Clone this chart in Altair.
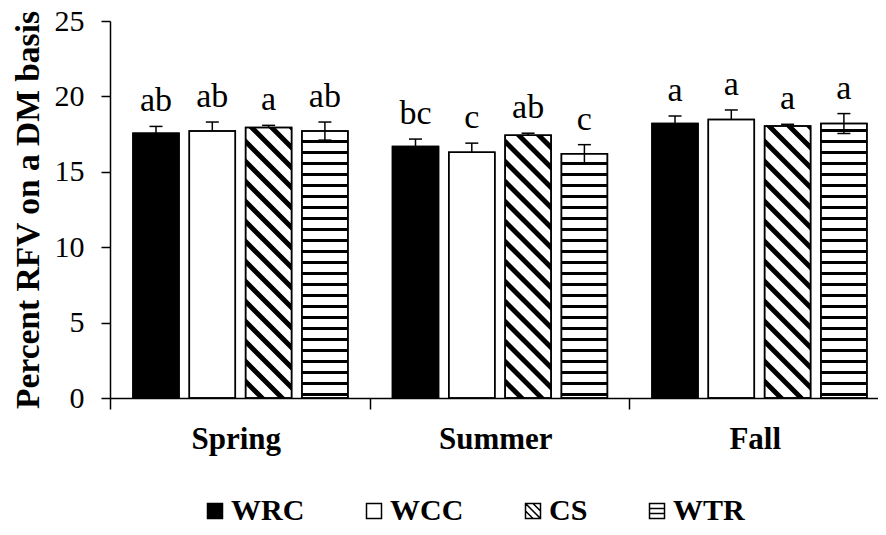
import altair as alt
import pandas as pd

# ---------------- data ----------------
seasons = ["Spring", "Summer", "Fall"]
series = ["WRC", "WCC", "CS", "WTR"]
values = {
    "WRC": [17.56, 16.67, 18.20],
    "WCC": [17.70, 16.30, 18.47],
    "CS":  [17.93, 17.43, 18.04],
    "WTR": [17.70, 16.20, 18.20],
}
errors = {
    "WRC": [0.45, 0.50, 0.50],
    "WCC": [0.60, 0.60, 0.63],
    "CS":  [0.15, 0.13, 0.11],
    "WTR": [0.60, 0.60, 0.66],
}
letters = {
    "WRC": ["ab", "bc", "a"],
    "WCC": ["ab", "c", "a"],
    "CS":  ["a", "ab", "a"],
    "WTR": ["ab", "c", "a"],
}
two_sided = ["WTR"]          # series whose error bars also extend below the mean
y_ticks = [0, 5, 10, 15, 20, 25]
fills = ["black", "white", "white", "white"]

# ---------------- layout constants (pixels) ----------------
W_PX, H_PX = 768, 377
GROUP_PX = 259.5
PXY = H_PX / 25.0
XMAX = W_PX / GROUP_PX
BAR_START, BAR_PITCH, BAR_W, CAP_HALF = 23.0, 56.3, 46.0, 6.5
DIAG_PERIOD, DIAG_THICK = 20.0, 7.0
HOR_PERIOD, HOR_FIRST = 11.0, 3.5
FONT = "Liberation Serif"

fill_of = dict(zip(series, fills))
rows = []
for g, season in enumerate(seasons):
    for i, s in enumerate(series):
        left = g + (BAR_START + i * BAR_PITCH) / GROUP_PX
        right = left + BAR_W / GROUP_PX
        v = values[s][g]
        e = errors[s][g]
        rows.append(dict(Season=season, Series=s, color=fill_of[s], left=left, right=right,
                         center=(left + right) / 2, value=v,
                         lo=v - e if s in two_sided else v, hi=v + e,
                         letter=letters[s][g]))
bars = pd.DataFrame(rows)

# error-bar caps
caps = []
for r in rows:
    caps.append(dict(x=r["center"] - CAP_HALF / GROUP_PX, x2=r["center"] + CAP_HALF / GROUP_PX, y=r["hi"]))
    if r["Series"] in two_sided:
        caps.append(dict(x=r["center"] - CAP_HALF / GROUP_PX, x2=r["center"] + CAP_HALF / GROUP_PX, y=r["lo"]))
caps = pd.DataFrame(caps)

# diagonal hatch (CS): bands of v + u in [c, c+t], clipped to the bar
diag = []
sid = 0
for r in rows:
    if r["Series"] != "CS":
        continue
    Wp, Hp = BAR_W, r["value"] * PXY
    c = -DIAG_THICK
    while c < Wp + Hp:
        us = sorted({u for u in [0, Wp, c, c - Hp, c + DIAG_THICK, c + DIAG_THICK - Hp] if 0 <= u <= Wp})
        for u in us:
            vlo = min(max(c - u, 0), Hp)
            vhi = min(max(c + DIAG_THICK - u, 0), Hp)
            diag.append(dict(sid=sid, x=r["left"] + u / GROUP_PX, y=vlo / PXY, y2=vhi / PXY))
        sid += 1
        c += DIAG_PERIOD
diag = pd.DataFrame(diag)

# horizontal hatch (WTR)
hor = []
for r in rows:
    if r["Series"] != "WTR":
        continue
    Hp = r["value"] * PXY
    v = HOR_FIRST
    while v < Hp - 2:
        hor.append(dict(x=r["left"], x2=r["right"], y=v / PXY))
        v += HOR_PERIOD
hor = pd.DataFrame(hor)

legend_df = pd.DataFrame({"Series": series})

xs = alt.Scale(domain=[0, XMAX], nice=False, zero=False)
ys = alt.Scale(domain=[0, 25], nice=False)

label_expr = ("datum.value == 0.5 ? 'Spring' : datum.value == 1.5 ? 'Summer' : "
              "datum.value == 2.5 ? 'Fall' : ''")

x_axis = alt.Axis(values=[0, 0.5, 1, 1.5, 2, 2.5], labelExpr=label_expr, title=None,
                  grid=False, labelOverlap=False, labelFlush=False,
                  tickColor={"condition": {"test": "datum.value % 1 == 0", "value": "black"},
                             "value": "transparent"},
                  tickSize=11, tickWidth=1.5, domainColor="black", domainWidth=1.5,
                  labelFont=FONT, labelFontSize=31, labelFontWeight="bold", labelColor="black",
                  labelPadding=15, labelOffset=-4)
y_axis = alt.Axis(values=y_ticks, title="Percent RFV on a DM basis", grid=False,
                  titleFont=FONT, titleFontSize=33.5, titleFontWeight="bold", titleColor="black",
                  titlePadding=9, labelFont=FONT, labelFontSize=30, labelColor="black",
                  labelPadding=17, tickSize=9, tickWidth=1.5, tickColor="black",
                  domainColor="black", domainWidth=1.5)

base_bars = alt.Chart(bars).mark_rect(stroke="black", strokeWidth=1.5).encode(
    x=alt.X("left:Q", scale=xs, axis=x_axis),
    x2="right:Q",
    y=alt.Y("value:Q", scale=ys, axis=y_axis),
    y2=alt.datum(0),
    fill=alt.Fill("color:N", scale=None),
)

diag_layer = alt.Chart(diag).mark_area(color="black", orient="vertical").encode(
    x=alt.X("x:Q", scale=xs), y=alt.Y("y:Q", scale=ys), y2="y2:Q", detail="sid:N")

hor_layer = alt.Chart(hor).mark_rule(color="black", strokeWidth=3).encode(
    x=alt.X("x:Q", scale=xs), x2="x2:Q", y=alt.Y("y:Q", scale=ys))

outline = alt.Chart(bars).mark_rect(fillOpacity=0, stroke="black", strokeWidth=1.5).encode(
    x=alt.X("left:Q", scale=xs), x2="right:Q", y=alt.Y("value:Q", scale=ys), y2=alt.datum(0))

err = alt.Chart(bars).mark_rule(color="black", strokeWidth=1.5).encode(
    x=alt.X("center:Q", scale=xs), y=alt.Y("lo:Q", scale=ys), y2="hi:Q")

cap_layer = alt.Chart(caps).mark_rule(color="black", strokeWidth=1.5).encode(
    x=alt.X("x:Q", scale=xs), x2="x2:Q", y=alt.Y("y:Q", scale=ys))

text = alt.Chart(bars).mark_text(baseline="alphabetic", dy=-15, font=FONT, fontSize=34,
                                 color="black").encode(
    x=alt.X("center:Q", scale=xs), y=alt.Y("hi:Q", scale=ys), text="letter:N")

shape_paths = [
    "M-1,-1H1V1H-1Z",
    "M-1,-1H1V1H-1Z",
    "M-1,-1H1V1H-1Z M-1,-1L1,1 M-1,0L0,1 M0,-1L1,0",
    "M-1,-1H1V1H-1Z M-1,-0.33H1 M-1,0.33H1",
]
leg = dict(orient="none", legendX=90, legendY=475, direction="horizontal", title=None,
           labelFont=FONT, labelFontSize=30, labelFontWeight="bold", labelColor="black",
           symbolSize=225, symbolStrokeColor="black", symbolStrokeWidth=1.5,
           symbolOpacity=1, columnPadding=54, labelOffset=1, padding=0)
legend_layer = alt.Chart(legend_df).mark_point(filled=True, size=225,
                                               stroke="black", strokeWidth=1.5).encode(
    x=alt.value(-500), y=alt.value(-500),
    fill=alt.Fill("Series:N", scale=alt.Scale(domain=series, range=fills),
                  legend=alt.Legend(**leg)),
    shape=alt.Shape("Series:N", scale=alt.Scale(domain=series, range=shape_paths),
                    legend=alt.Legend(**leg)),
)

chart = alt.layer(base_bars, diag_layer, hor_layer, outline, err, cap_layer, text,
                  legend_layer).properties(
    width=W_PX, height=H_PX,
    autosize=alt.AutoSizeParams(type="none"),
    padding={"left": 102, "top": 13, "right": 0, "bottom": 128},
    background="white",
).configure_view(stroke=None)

chart.save("out.html", embed_options={"renderer": "svg", "actions": False})
